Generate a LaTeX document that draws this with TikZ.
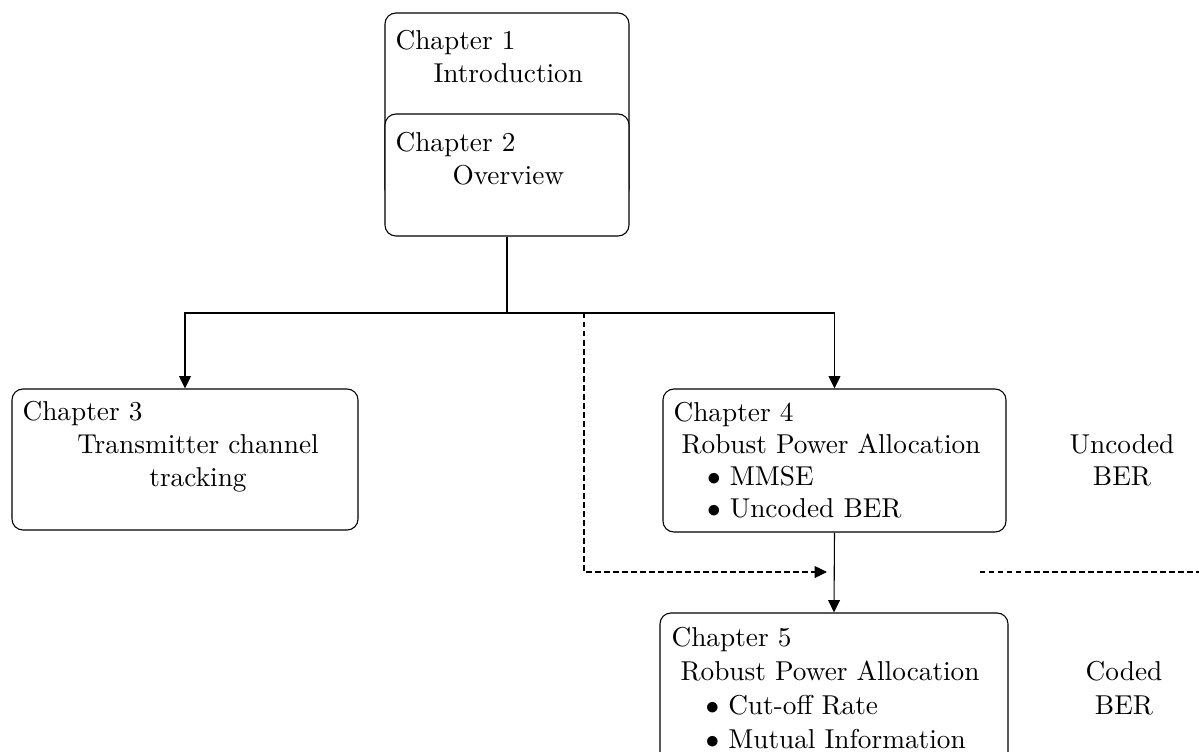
\documentclass[tikz,border=0pt]{standalone}
\usetikzlibrary{arrows.meta}
\def\pxu{0.3663pt}
\begin{document}
\begin{tikzpicture}[
  x={(\pxu,0)}, y={(0,-\pxu)},
  chapbox/.style={draw, rounded corners=4pt, fill=white, inner sep=0pt},
  txt/.style={anchor=base west, inner sep=0pt},
  ctxt/.style={anchor=base, inner sep=0pt},
  arr/.style={-{Triangle[length=4.5pt,width=4.3pt]}},
  dashline/.style={dash pattern=on 2pt off 1.3pt},
]
\useasboundingbox (0,0) rectangle (1199,751);
\clip (0,0) rectangle (1199,751);

% chapter boxes
\node[chapbox, minimum width=244*\pxu, minimum height=187*\pxu] (ch1) at (507,106.5) {};
\node[chapbox, minimum width=244*\pxu, minimum height=122*\pxu] (ch2) at (507,175) {};
\node[chapbox, minimum width=346*\pxu, minimum height=141*\pxu] (ch3) at (185,459.5) {};
\node[chapbox, minimum width=343*\pxu, minimum height=143*\pxu] (ch4) at (834.5,460.5) {};
\node[chapbox, minimum width=348*\pxu, minimum height=187*\pxu] (ch5) at (834,706.5) {};

% box texts
\node[txt] (t1a) at (395,49) {Chapter 1};
\node[txt] (t1b) at (433,82) {Introduction};
\node[txt] (t2a) at (395,151) {Chapter 2};
\node[txt] (t2b) at (452,184) {Overview};

\node[txt] (t3a) at (22,420) {Chapter 3};
\node[ctxt] (t3b) at (198,453) {Transmitter channel};
\node[ctxt] (t3c) at (198,486) {tracking};

\node[txt] (t4a) at (673,421) {Chapter 4};
\node[txt] (t4b) at (681,453) {Robust Power Allocation};
\node[txt] (t4c) at (706.5,485) {$\bullet$\ MMSE};
\node[txt] (t4d) at (706.5,517) {$\bullet$\ Uncoded BER};

\node[txt] (t5a) at (671,646) {Chapter 5};
\node[txt] (t5b) at (680,680) {Robust Power Allocation};
\node[txt] (t5c) at (705,714) {$\bullet$\ Cut-off Rate};
\node[txt] (t5d) at (705,748) {$\bullet$\ Mutual Information};

% side notes
\node[ctxt] (u1) at (1122,453) {Uncoded};
\node[ctxt] (u2) at (1122,485) {BER};
\node[ctxt] (c1) at (1124,680) {Coded};
\node[ctxt] (c2) at (1124,714) {BER};

% connectors
\coordinate (split) at (507,313);
\draw (ch2.south) -- (split);
\draw[arr] (split) -| (ch3.north);
\draw[arr] (split) -| (ch4.north);
\draw[arr] (ch4.south) -- (ch5.north);

\coordinate (dstart) at (584,313);
\coordinate (dend) at (827,572);
\draw[dashline, arr] (dstart) |- (dend);

\coordinate (rA) at (980,572);
\coordinate (rB) at (1199,572);
\draw[dashline] (rA) -- (rB);
\end{tikzpicture}
\end{document}
